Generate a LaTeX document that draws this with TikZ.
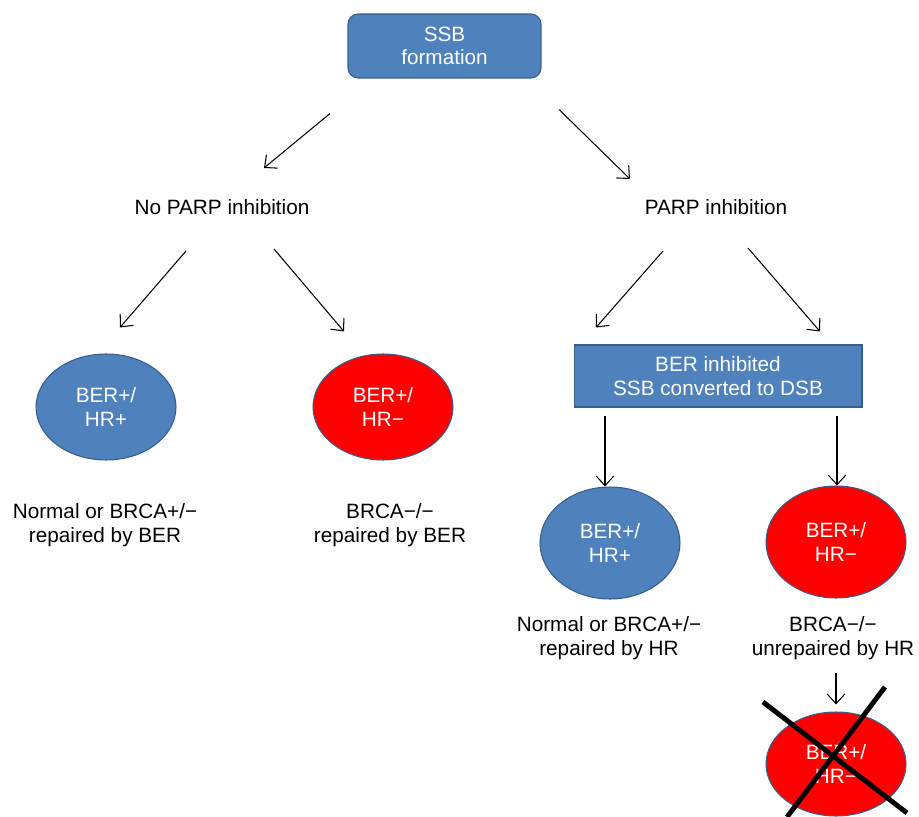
\documentclass[tikz,border=0pt]{standalone}
\usepackage{fontspec}
\setmainfont{Liberation Sans}
\usetikzlibrary{shapes.geometric, arrows.meta, calc}
\definecolor{boxblue}{HTML}{4F81BD}
\definecolor{edgeblue}{HTML}{385D8A}
\tikzstyle{startbox} = [rectangle, rounded corners=0.2cm, minimum width=3.86cm, minimum height=1.28cm, align=center, fill=boxblue, draw=edgeblue, line width=0.6pt, text=white]
\tikzstyle{process} = [rectangle, minimum width=5.76cm, minimum height=1.24cm, align=center, fill=boxblue, draw=edgeblue, line width=0.6pt, text=white]
\tikzstyle{goodcell} = [ellipse, minimum width=2.8cm, minimum height=2.12cm, align=center, fill=boxblue, draw=edgeblue, line width=0.6pt, text=white]
\tikzstyle{badcell} = [goodcell, fill=red]
\tikzstyle{result} = [align=center]
\tikzstyle{arrow} = [line width=0.6pt, -{Straight Barb[length=5.5pt,width=10pt]}]
\tikzstyle{cross} = [line width=2.8pt]

\begin{document}
\begin{tikzpicture}[x=0.02cm, y=-0.02cm, font=\fontsize{11.8}{13.3}\selectfont]
    \useasboundingbox (0,0) rectangle (919,817);

    \node [startbox] at (444.5,46) (ssb) {SSB\\formation};
    \node at (222,207) (nopa) {No PARP inhibition};
    \node at (716,207) (pa) {PARP inhibition};
    \node [goodcell] at (106,407) (e1) {BER+/\\HR+};
    \node [badcell] at (383,407) (e2) {BER+/\\HR−};
    \node [result] at (105,525) (t1) {Normal or BRCA+/−\\repaired by BER};
    \node [result] at (390,525) (t2) {BRCA−/−\\repaired by BER};
    \node [process] at (718,376) (ber) {BER inhibited\\SSB converted to DSB};
    \node [goodcell, minimum height=2.24cm] at (610,543) (e3) {BER+/\\HR+};
    \node [badcell, minimum height=2.24cm] at (836,542) (e4) {BER+/\\HR−};
    \node [result] at (609,638) (t3) {Normal or BRCA+/−\\repaired by HR};
    \node [result] at (833,638) (t4) {BRCA−/−\\unrepaired by HR};
    \node [badcell, minimum height=2.08cm] at (836,764) (e5) {BER+/\\HR−};

    \draw [arrow] ($(ssb.south)+(-114.5,35)$) -- ($(nopa)+(42,-39)$);
    \draw [arrow] ($(ssb.south)+(114.5,31)$) -- ($(pa)+(-86,-28)$);
    \draw [arrow] ($(nopa)+(-36,44)$) -- ($(e1.north)+(14,-26)$);
    \draw [arrow] ($(nopa)+(52,42)$) -- ($(e2.north)+(-39,-22)$);
    \draw [arrow] ($(pa)+(-53,44)$) -- ($(ber.north)+(-122,-17)$);
    \draw [arrow] ($(pa)+(32,41)$) -- ($(ber.north)+(102,-13)$);
    \draw [arrow] ($(ber.south)+(-113,8)$) -- ($(e3.north)+(-5,0)$);
    \draw [arrow] ($(ber.south)+(119,8)$) -- ($(e4.north)+(1,0)$);
    \draw [arrow] ($(t4)+(3,35)$) -- ($(e5.north)+(0,-7)$);

    % crossed out
    \draw [cross] ($(e5)+(-73,-62)$) -- ($(e5)+(71,49)$);
    \draw [cross] ($(e5)+(49,-77)$) -- ($(e5)+(-49,53)$);
\end{tikzpicture}
\end{document}
